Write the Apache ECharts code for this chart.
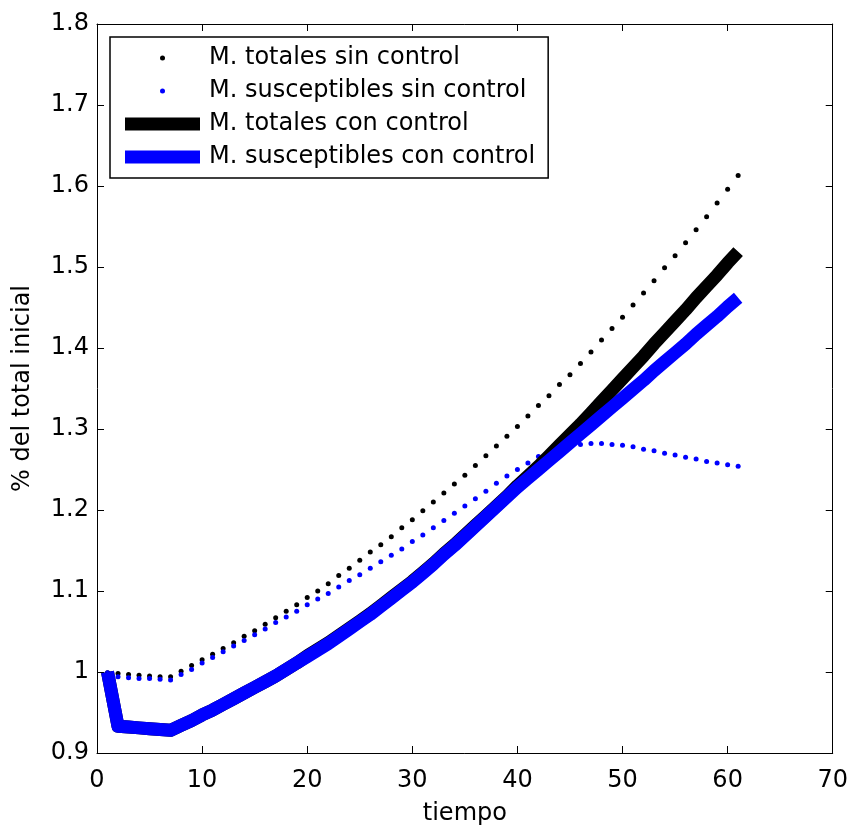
<!DOCTYPE html>
<html><head><meta charset="utf-8">
<script src="https://cdn.jsdelivr.net/npm/echarts@6/dist/echarts.min.js"></script>
<style>html,body{margin:0;padding:0;background:#fff}#c{width:851px;height:831px}</style>
</head><body><div id="c"></div>
<script>
const tiempo = [1,2,3,4,5,6,7,8,9,10,11,12,13,14,15,16,17,18,19,20,21,22,23,24,25,26,27,28,29,30,
  31,32,33,34,35,36,37,38,39,40,41,42,43,44,45,46,47,48,49,50,51,52,53,54,55,56,57,58,59,60,61];
const totalesSin = [0.999,0.998,0.997,0.996,0.995,0.994,0.994,1.001,1.008,1.015,
  1.022,1.029,1.036,1.044,1.051,1.059,1.067,1.075,1.083,1.092,
  1.100,1.109,1.119,1.128,1.138,1.148,1.157,1.167,1.178,1.188,
  1.199,1.210,1.221,1.232,1.243,1.255,1.267,1.279,1.291,1.303,
  1.316,1.329,1.341,1.355,1.367,1.381,1.395,1.410,1.424,1.438,
  1.453,1.468,1.483,1.499,1.514,1.530,1.546,1.562,1.579,1.596,1.613];
const suscSin = [0.999,0.994,0.993,0.992,0.992,0.991,0.990,0.997,1.003,1.011,
  1.018,1.025,1.032,1.039,1.046,1.053,1.061,1.068,1.075,1.083,
  1.090,1.097,1.105,1.113,1.120,1.128,1.136,1.144,1.152,1.161,
  1.169,1.178,1.187,1.196,1.205,1.214,1.223,1.233,1.242,1.250,
  1.258,1.266,1.272,1.277,1.280,1.281,1.282,1.282,1.281,1.280,
  1.278,1.275,1.273,1.270,1.268,1.265,1.263,1.260,1.258,1.256,1.254];
const totalesCon = [1.000,0.933,0.932,0.931,0.930,0.929,0.928,0.934,0.940,0.947,
  0.953,0.960,0.967,0.974,0.981,0.988,0.995,1.003,1.011,1.020,
  1.028,1.036,1.045,1.054,1.063,1.072,1.082,1.092,1.102,1.112,
  1.123,1.134,1.146,1.157,1.169,1.181,1.193,1.205,1.217,1.230,
  1.242,1.254,1.267,1.280,1.293,1.306,1.320,1.334,1.348,1.362,
  1.376,1.390,1.405,1.419,1.433,1.447,1.462,1.476,1.490,1.505,1.519];
const suscCon = [1.000,0.933,0.932,0.931,0.930,0.929,0.928,0.934,0.940,0.947,
  0.953,0.960,0.967,0.974,0.981,0.988,0.995,1.003,1.011,1.019,
  1.027,1.035,1.044,1.053,1.062,1.071,1.081,1.091,1.101,1.111,
  1.122,1.133,1.145,1.156,1.168,1.180,1.192,1.204,1.216,1.228,
  1.239,1.250,1.261,1.272,1.283,1.294,1.305,1.316,1.327,1.338,
  1.349,1.360,1.372,1.383,1.394,1.405,1.417,1.428,1.439,1.451,1.462];
const xTicks = [0,10,20,30,40,50,60,70];
const yTicks = [0.9,1.0,1.1,1.2,1.3,1.4,1.5,1.6,1.7,1.8];
const names = ['M. totales sin control','M. susceptibles sin control','M. totales con control','M. susceptibles con control'];

const FONT = "'DejaVu Sans', 'Liberation Sans', Arial, sans-serif";
const pair = (xs, ys) => xs.map((x, i) => [x, ys[i]]);
const dotIcon = 'path://M0,0M75,13M35,6.5a2.5,2.5 0 1 0 5,0a2.5,2.5 0 1 0 -5,0Z';

const xBase = {
  type: 'value', min: xTicks[0], max: xTicks[xTicks.length - 1], interval: xTicks[1] - xTicks[0],
  axisLine: { show: true, onZero: false, lineStyle: { color: '#000', width: 1 } },
  axisTick: { show: true, inside: true, length: 7, lineStyle: { color: '#000', width: 1 } },
  splitLine: { show: false }
};
const yBase = {
  type: 'value', min: yTicks[0], max: yTicks[yTicks.length - 1], interval: 0.1,
  axisLine: { show: true, onZero: false, lineStyle: { color: '#000', width: 1 } },
  axisTick: { show: true, inside: true, length: 7, lineStyle: { color: '#000', width: 1 } },
  splitLine: { show: false }
};

const chart = echarts.init(document.getElementById('c'), null, { renderer: 'canvas' });
chart.setOption({
  animation: false,
  backgroundColor: '#fff',
  textStyle: { fontFamily: FONT },
  grid: { left: 97, right: 15, top: 24, bottom: 68, containLabel: false },
  xAxis: [
    Object.assign({}, xBase, {
      position: 'bottom', name: 'tiempo', nameLocation: 'middle', nameGap: 49,
      nameTextStyle: { fontSize: 24, color: '#000', fontFamily: FONT },
      axisLabel: { show: true, fontSize: 24, color: '#000', margin: 16, fontFamily: FONT }
    }),
    Object.assign({}, xBase, { position: 'top', axisLabel: { show: false } })
  ],
  yAxis: [
    Object.assign({}, yBase, {
      position: 'left', name: '% del total inicial', nameLocation: 'middle', nameGap: 62,
      nameTextStyle: { fontSize: 24, color: '#000', fontFamily: FONT },
      axisLabel: { show: true, fontSize: 24, color: '#000', margin: 8, fontFamily: FONT,
        formatter: v => String(parseFloat(v.toFixed(1))) }
    }),
    Object.assign({}, yBase, { position: 'right', axisLabel: { show: false } })
  ],
  legend: {
    orient: 'vertical', left: 110, top: 37, z: 20,
    backgroundColor: '#fff', borderColor: '#000', borderWidth: 1.5, borderRadius: 0,
    padding: [9, 13, 9, 15], itemGap: 9, itemWidth: 75, itemHeight: 13,
    textStyle: { fontSize: 24, color: '#000', fontFamily: FONT, lineHeight: 24, padding: [0, 0, 0, 4] },
    selectedMode: false,
    data: [
      { name: names[0], icon: dotIcon },
      { name: names[1], icon: dotIcon },
      { name: names[2], icon: 'rect' },
      { name: names[3], icon: 'rect' }
    ]
  },
  series: [
    { name: names[0], type: 'scatter', data: pair(tiempo, totalesSin), symbol: 'circle', symbolSize: 5,
      itemStyle: { color: '#000', opacity: 1 }, xAxisIndex: 0, yAxisIndex: 0 },
    { name: names[1], type: 'scatter', data: pair(tiempo, suscSin), symbol: 'circle', symbolSize: 5,
      itemStyle: { color: '#0000ff', opacity: 1 }, xAxisIndex: 0, yAxisIndex: 0 },
    { name: names[2], type: 'line', data: pair(tiempo, totalesCon), showSymbol: false, symbol: 'none',
      lineStyle: { color: '#000', width: 13, cap: 'butt', join: 'round' }, itemStyle: { color: '#000' } },
    { name: names[3], type: 'line', data: pair(tiempo, suscCon), showSymbol: false, symbol: 'none',
      lineStyle: { color: '#0000ff', width: 13, cap: 'butt', join: 'round' }, itemStyle: { color: '#0000ff' } }
  ]
});
</script>
</body></html>
